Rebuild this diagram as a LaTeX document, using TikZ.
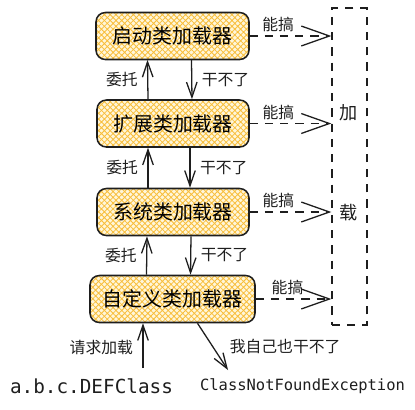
\documentclass[tikz,border=0pt]{standalone}
\usepackage{fontspec}
\setmainfont{Noto Sans CJK SC}
\setmonofont{DejaVu Sans Mono}
\usepackage{tikz}
\usetikzlibrary{arrows.meta, positioning, calc, patterns.meta}
\definecolor{hatchor}{RGB}{248, 190, 60}
\definecolor{cremacl}{RGB}{255, 246, 218}
\definecolor{tinta}{RGB}{30, 30, 30}

\tikzset{
  loader/.style={draw=tinta, line width=1.3pt, rounded corners=8pt,
    preaction={fill=cremacl},
    pattern={Hatch[angle=45,distance=3.5pt,line width=0.7pt]}, pattern color=hatchor,
    minimum height=47*0.03cm, font=\fontsize{17}{20}\selectfont},
  flecha/.style={draw=tinta, line width=1.1pt, -{Straight Barb[length=13pt,width=9pt]}},
  puede/.style={draw=tinta, line width=1.1pt, dash pattern=on 7pt off 6pt,
    -{Straight Barb[length=24pt,width=17pt]}},
  etiq/.style={font=\fontsize{13.5}{15}\selectfont, text=tinta, inner sep=2pt}
}

\begin{document}
\begin{tikzpicture}[x=0.03cm, y=-0.03cm]
        \useasboundingbox (0,0) rectangle (415,409);
        % cargadores
        \node[loader, minimum width=153*0.03cm] (boot) at (172.5,36) {启动类加载器};
        \node[loader, minimum width=152*0.03cm] (ext) at (173,123.5) {扩展类加载器};
        \node[loader, minimum width=152*0.03cm] (sys) at (173,212) {系统类加载器};
        \node[loader, minimum width=165*0.03cm] (cust) at (172.5,299) {自定义类加载器};
        \node[draw=tinta, line width=1.1pt, dash pattern=on 7pt off 6pt,
              minimum width=35*0.03cm, minimum height=317*0.03cm] (frame) at (349.5,166.5) {};
        \node[font=\fontsize{15.5}{18}\selectfont, text=tinta] (jia) at (349,113) {加};
        \node[font=\fontsize{15.5}{18}\selectfont, text=tinta] (zai) at (349,213) {载};
        \node[font=\ttfamily\fontsize{16.5}{18}\selectfont, text=tinta] (clase) at (91.5,386) {a.b.c.DEFClass};
        \node[font=\ttfamily\fontsize{13.2}{15}\selectfont, text=tinta] (excep) at (302.5,386) {ClassNotFoundException};
        \coordinate (req) at (143,368);
        \coordinate (fin) at (228,370);

        % delegar y no poder
        \draw[flecha] ($(ext.north)+(-25,0)$) -- ($(boot.south)+(-25,0)$) node[midway, left=6pt, etiq] {委托};
        \draw[flecha] ($(boot.south)+(19,0)$) -- ($(ext.north)+(19,0)$) node[midway, right=6pt, etiq] {干不了};
        \draw[flecha] ($(sys.north)+(-25,0)$) -- ($(ext.south)+(-25,0)$) node[midway, left=6pt, etiq] {委托};
        \draw[flecha] ($(ext.south)+(17,0)$) -- ($(sys.north)+(17,0)$) node[midway, right=6pt, etiq] {干不了};
        \draw[flecha] ($(cust.north)+(-26,0)$) -- ($(sys.south)+(-26,0)$) node[midway, left=6pt, etiq] {委托};
        \draw[flecha] ($(sys.south)+(18,0)$) -- ($(cust.north)+(18,0)$) node[midway, right=6pt, etiq] {干不了};
        \draw[flecha] (req) -- (req |- cust.south) node[pos=0.45, left=6pt, etiq] {请求加载};
        \draw[flecha] ($(cust.south)+(25,0)$) -- (fin) node[pos=0.5, right=12pt, etiq] {我自己也干不了};

        % puede cargar
        \draw[puede] (boot.east) -- (boot.east -| frame.west) node[pos=0.35, above=1pt, etiq] {能搞};
        \draw[puede] (ext.east) -- (ext.east -| frame.west) node[pos=0.35, above=1pt, etiq] {能搞};
        \draw[puede] (sys.east) -- (sys.east -| frame.west) node[pos=0.35, above=1pt, etiq] {能搞};
        \draw[puede] (cust.east) -- (cust.east -| frame.west) node[pos=0.42, above=1pt, etiq] {能搞};
    \end{tikzpicture}
\end{document}
